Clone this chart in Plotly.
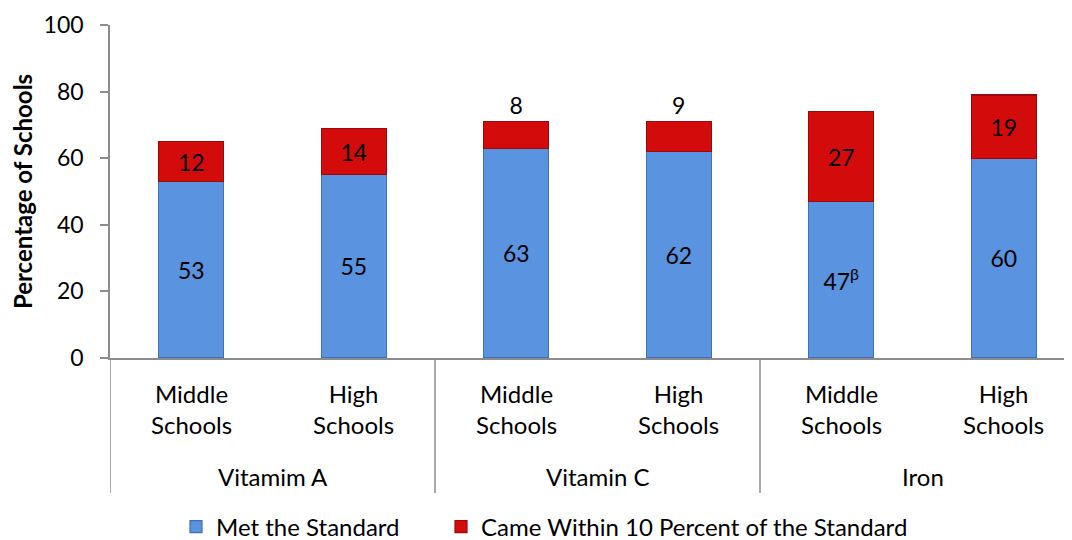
import plotly.graph_objects as go

groups = ["Vitamim A", "Vitamin C", "Iron"]
schools = ["Middle<br>Schools", "High<br>Schools"] * 3
met = [53, 55, 63, 62, 47, 60]
met_labels = ["53", "55", "63", "62", "47<sup>β</sup>", "60"]
within = [12, 14, 8, 9, 27, 19]
within_pos = ["inside", "inside", "outside", "outside", "inside", "inside"]

FONT = "Lato, 'Open Sans', sans-serif"
FS_LAB = 24   # category labels
FS_DAT = 23   # data labels
FS_TICK = 23
idx = list(range(len(met)))

fig = go.Figure()
fig.add_trace(go.Bar(
    x=idx, y=met, name="Met the Standard",
    text=met_labels, textposition="inside", insidetextanchor="middle",
    textfont=dict(size=FS_DAT, color="black", family=FONT),
    marker=dict(color="#5A93E0", line=dict(color="#3F6FB8", width=1.2)),
    width=0.4, legend="legend",
))
fig.add_trace(go.Bar(
    x=idx, y=within, name="Came Within 10 Percent of the Standard",
    text=[str(v) for v in within], textposition=within_pos, insidetextanchor="middle",
    textfont=dict(size=FS_DAT, color="black", family=FONT),
    marker=dict(color="#D40B0B", line=dict(color="#9A0A0A", width=1.2)),
    width=0.4, cliponaxis=False, legend="legend2",
))

# plot area height 333 px, width 962 px
PH = 333.0
PW = 962.0
def py(pix_below_axis):
    return -pix_below_axis / PH
def px(pix_from_axis):
    return pix_from_axis / PW

annotations = []
for i, s in zip(idx, schools):
    annotations.append(dict(x=i, y=py(51), xref="x", yref="paper", text=s,
                            showarrow=False, font=dict(size=FS_LAB, family=FONT, color="black"),
                            xanchor="center", yanchor="middle", align="center"))
for g, name in enumerate(groups):
    annotations.append(dict(x=2 * g + 0.5, y=py(118), xref="x", yref="paper", text=name,
                            showarrow=False, font=dict(size=FS_LAB, family=FONT, color="black"),
                            xanchor="center", yanchor="middle"))

shapes = []
for g in range(len(groups)):
    shapes.append(dict(type="line", xref="x", yref="paper", x0=2 * g - 0.5, x1=2 * g - 0.5,
                       y0=0, y1=py(135), line=dict(color="#8C8C8C", width=1.5)))

leg_common = dict(orientation="h", y=py(169), yanchor="middle", xanchor="left",
                  font=dict(size=24, family=FONT), itemwidth=30, bgcolor="rgba(0,0,0,0)")

fig.update_layout(
    barmode="stack",
    width=1072, height=540,
    margin=dict(l=102, r=8, t=17, b=190, autoexpand=False),
    paper_bgcolor="white", plot_bgcolor="white",
    font=dict(family=FONT, size=FS_LAB, color="black"),
    uniformtext=dict(mode=False),
    showlegend=True,
    legend=dict(x=px(66), **leg_common),
    legend2=dict(x=px(331), **leg_common),
    annotations=annotations,
    shapes=shapes,
    yaxis=dict(range=[0, 100], dtick=20, showgrid=False, zeroline=False,
               showline=True, linecolor="#8C8C8C", linewidth=1.5,
               ticks="outside", ticklen=8, tickcolor="#8C8C8C", tickwidth=1.5,
               ticklabelstandoff=12,
               tickfont=dict(size=FS_TICK), automargin=False,
               title=dict(text="<b>Percentage of Schools</b>", font=dict(size=24), standoff=10)),
    xaxis=dict(range=[-0.5, 5.42], showline=True, linecolor="#8C8C8C", linewidth=1.5,
               showticklabels=False, ticks="", showgrid=False, zeroline=False,
               automargin=False, fixedrange=True),
)

fig.write_html("out.html")
